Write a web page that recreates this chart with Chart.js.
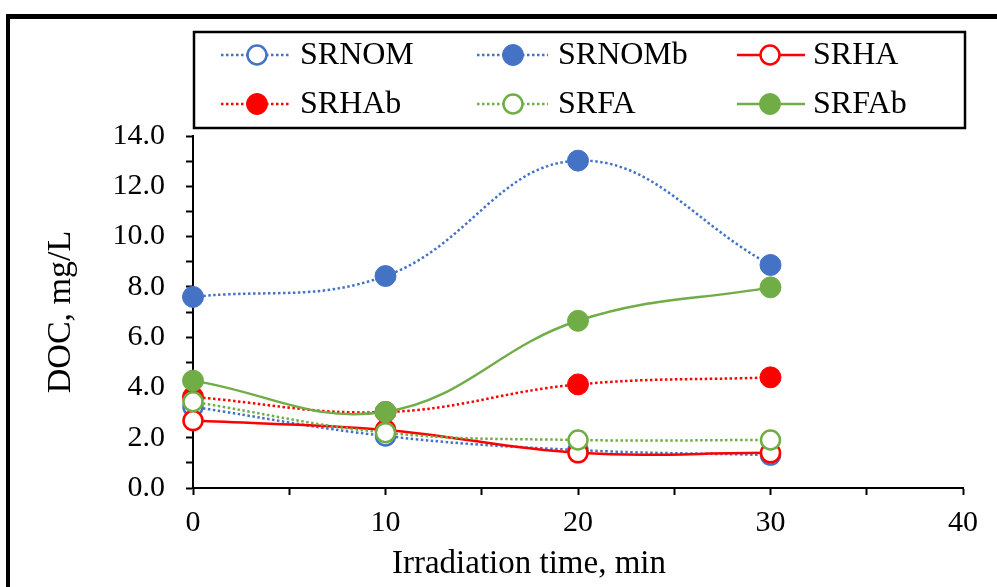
<!DOCTYPE html>
<html>
<head>
<meta charset="utf-8">
<script src="https://cdn.jsdelivr.net/npm/chart.js@4.4.1/dist/chart.umd.min.js"></script>
<style>
  body { margin: 0; background: #fff; }
  #doc { display: block; }
</style>
</head>
<body>
<canvas id="doc" width="997" height="587"></canvas>
<script>
//DOC data, mg/L at each irradiation time
var times = [0, 10, 20, 30];
var names = ['SRNOM', 'SRNOMb', 'SRHA', 'SRHAb', 'SRFA', 'SRFAb'];
var srnom  = [3.23, 2.07, 1.51, 1.31];
var srnomb = [7.60, 8.43, 13.02, 8.87];
var srha   = [2.68, 2.31, 1.40, 1.40];
var srhab  = [3.62, 3.02, 4.12, 4.40];
var srfa   = [3.43, 2.20, 1.91, 1.91];
var srfab  = [4.27, 3.03, 6.65, 7.98];
var yTicks = [0, 2, 4, 6, 8, 10, 12, 14];
var xTicks = [0, 10, 20, 30, 40];

var BLUE = '#4472C4', RED = '#FF0000', GREEN = '#70AD47';
var FONT = '"Liberation Serif", "Times New Roman", serif';

function toPoints(vals) {
    var pts = [];
    for (var i = 0; i < times.length; i++) {
        pts.push({ x: times[i], y: vals[i] });
    }
    return pts;
}

function makeSet(idx, vals, color, dotted, filled) {
    return {
        label: names[idx],
        data: toPoints(vals),
        borderColor: color,
        backgroundColor: color,
        borderWidth: 2.5,
        borderDash: dotted ? [2.5, 2.5] : [],
        tension: 0.4,
        fill: false,
        pointRadius: filled ? 10.5 : 9.5,
        pointHoverRadius: filled ? 10.5 : 9.5,
        pointBackgroundColor: filled ? color : '#fff',
        pointBorderColor: color,
        pointBorderWidth: filled ? 1 : 2.5,
        clip: false,
        order: 6 - idx
    };
}

//frame, boxed legend and x title
var decor = {
    id: 'decor',
    beforeDraw: function (chart) {
        var ctx = chart.ctx;
        ctx.save();
        ctx.fillStyle = '#000';
        ctx.fillRect(6, 14, 991, 5);
        ctx.fillRect(6, 14, 4, 573);
        ctx.restore();
    },
    afterDraw: function (chart) {
        var ctx = chart.ctx;
        var sets = chart.data.datasets;
        var lineStart = [221, 477, 737];
        var lineEnd = [291, 548, 805];
        var markX = [257, 513, 770];
        var textX = [300, 558, 813];
        var rowY = [55, 104];
        ctx.save();
        ctx.strokeStyle = '#000';
        ctx.lineWidth = 2.5;
        ctx.strokeRect(194, 32, 771, 96);
        for (var i = 0; i < sets.length; i++) {
            var ds = sets[i];
            var c = i % 3, y = rowY[Math.floor(i / 3)];
            ctx.beginPath();
            ctx.setLineDash(ds.borderDash);
            ctx.lineWidth = ds.borderWidth;
            ctx.strokeStyle = ds.borderColor;
            ctx.moveTo(lineStart[c], y);
            ctx.lineTo(lineEnd[c], y);
            ctx.stroke();
            ctx.setLineDash([]);
            ctx.beginPath();
            ctx.arc(markX[c], y, ds.pointRadius, 0, Math.PI * 2);
            ctx.fillStyle = ds.pointBackgroundColor;
            ctx.fill();
            ctx.lineWidth = ds.pointBorderWidth;
            ctx.strokeStyle = ds.pointBorderColor;
            ctx.stroke();
            ctx.fillStyle = '#000';
            ctx.font = '32px ' + FONT;
            ctx.textAlign = 'left';
            ctx.textBaseline = 'middle';
            ctx.fillText(ds.label, textX[c], y + 1);
        }
        ctx.font = '33px ' + FONT;
        ctx.textAlign = 'center';
        ctx.textBaseline = 'middle';
        ctx.fillText('Irradiation time, min', 529, 564);
        ctx.restore();
    }
};

const docChart = new Chart(document.getElementById('doc'), {
    type: 'line',
    data: {
        datasets: [
            makeSet(0, srnom, BLUE, true, false),
            makeSet(1, srnomb, BLUE, true, true),
            makeSet(2, srha, RED, false, false),
            makeSet(3, srhab, RED, true, true),
            makeSet(4, srfa, GREEN, true, false),
            makeSet(5, srfab, GREEN, false, true)
        ]
    },
    options: {
        responsive: false,
        animation: false,
        layout: { padding: { left: 0, right: 34, top: 136, bottom: 0 } },
        plugins: {
            legend: { display: false },
            tooltip: { enabled: false }
        },
        scales: {
            x: {
                type: 'linear',
                min: xTicks[0],
                max: xTicks[xTicks.length - 1],
                ticks: {
                    stepSize: 5,
                    autoSkip: false,
                    maxRotation: 0,
                    color: '#000',
                    padding: 10,
                    font: { family: FONT, size: 30 },
                    callback: function (v) { return xTicks.indexOf(v) >= 0 ? String(v) : ''; }
                },
                grid: { drawOnChartArea: false, color: '#000', tickLength: 7, tickWidth: 2 },
                border: { color: '#000', width: 2 },
                afterFit: function (s) { s.height = 99; }
            },
            y: {
                min: yTicks[0],
                max: yTicks[yTicks.length - 1],
                ticks: {
                    stepSize: 1,
                    autoSkip: false,
                    color: '#000',
                    padding: 21,
                    font: { family: FONT, size: 30 },
                    callback: function (v) { return yTicks.indexOf(v) >= 0 ? v.toFixed(1) : ''; }
                },
                grid: { drawOnChartArea: false, color: '#000', tickLength: 7, tickWidth: 2 },
                border: { color: '#000', width: 2 },
                title: {
                    display: true,
                    text: 'DOC, mg/L',
                    color: '#000',
                    font: { family: FONT, size: 34 },
                    padding: { top: 41, bottom: 0 }
                },
                afterFit: function (s) { s.width = 193; }
            }
        }
    },
    plugins: [decor]
});
</script>
</body>
</html>
